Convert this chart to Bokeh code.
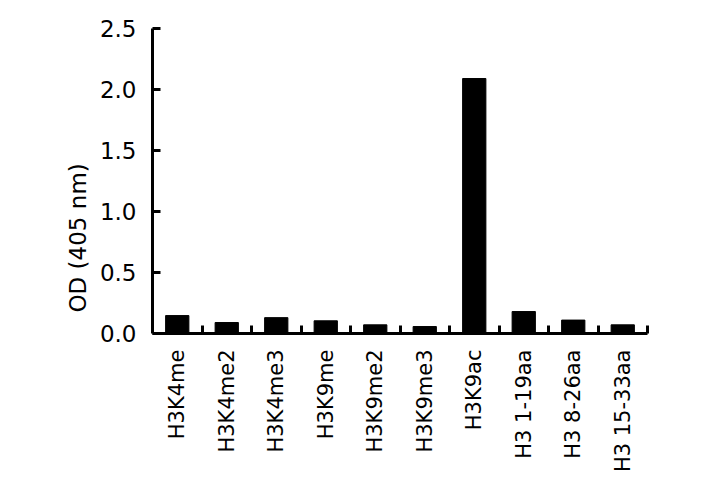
import math
from bokeh.plotting import figure
from bokeh.models import Range1d, FixedTicker, Title, NumeralTickFormatter
from bokeh.embed import file_html
from bokeh.resources import INLINE

categories = ["H3K4me", "H3K4me2", "H3K4me3", "H3K9me", "H3K9me2",
              "H3K9me3", "H3K9ac", "H3 1-19aa", "H3 8-26aa", "H3 15-33aa"]
od_values = [0.147, 0.090, 0.130, 0.104, 0.071, 0.057, 2.09, 0.180, 0.110, 0.071]
y_ticks = [0.0, 0.5, 1.0, 1.5, 2.0, 2.5]

centers = [i + 0.5 for i in range(len(categories))]
boundaries = [float(i) for i in range(1, len(categories) + 1)]

FONT = "DejaVu Sans"

p = figure(width=685, height=481, output_backend="svg", toolbar_location=None,
           x_range=Range1d(0, len(categories)), y_range=Range1d(0, 2.5),
           min_border_left=152, min_border_right=38, min_border_top=28,
           min_border_bottom=148)
p.outline_line_color = None
p.grid.visible = False
p.background_fill_color = "white"
p.border_fill_color = "white"

p.vbar(x=centers, top=od_values, bottom=0, width=0.47, color="black")

# x axis
xa = p.xaxis[0]
xa.ticker = FixedTicker(ticks=centers, minor_ticks=boundaries)
xa.major_label_overrides = {c: lab for c, lab in zip(centers, categories)}
xa.major_label_orientation = math.pi / 2
xa.major_tick_in = 0
xa.major_tick_out = 0
xa.minor_tick_in = 8
xa.minor_tick_out = 0
xa.minor_tick_line_width = 3
xa.minor_tick_line_color = "black"
xa.axis_line_width = 3
xa.axis_line_color = "black"
xa.major_label_text_font = FONT
xa.major_label_text_font_size = "21px"
xa.major_label_text_color = "black"
xa.major_label_standoff = 16

# y axis
ya = p.yaxis[0]
ya.ticker = FixedTicker(ticks=y_ticks, minor_ticks=[])
ya.formatter = NumeralTickFormatter(format="0.0")
ya.major_tick_in = 8
ya.major_tick_out = 0
ya.major_tick_line_width = 3
ya.major_tick_line_color = "black"
ya.minor_tick_line_color = None
ya.axis_line_width = 3
ya.axis_line_color = "black"
ya.major_label_text_font = FONT
ya.major_label_text_font_size = "23px"
ya.major_label_text_color = "black"
ya.major_label_standoff = 16

ytitle = Title(text="OD (405 nm)", align="left", offset=21,
               text_font=FONT, text_font_size="23px", text_font_style="normal",
               text_color="black", standoff=12)
p.add_layout(ytitle, "left")

open("out.html", "w").write(file_html(p, INLINE))
